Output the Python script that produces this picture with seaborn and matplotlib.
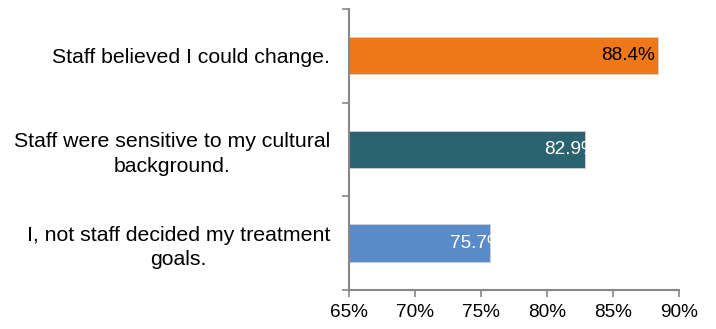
import matplotlib
matplotlib.use("Agg")
import matplotlib.pyplot as plt
import numpy as np
import pandas as pd
import seaborn as sns
from matplotlib.ticker import FuncFormatter, FixedLocator

# chart data
categories = [
    "Staff believed I could change.",
    "Staff were sensitive to my cultural\nbackground.",
    "I, not staff decided my treatment\ngoals.",
]
values = [0.884, 0.829, 0.757]
value_labels = ["88.4%", "82.9%", "75.7%"]
x_ticks = [0.65, 0.70, 0.75, 0.80, 0.85, 0.90]

bar_colors = ["#EE7718", "#2B6470", "#5A8BC8"]
label_colors = ["black", "white", "white"]
label_shift_px = [-3, 13, 13]

sns.set_style("white")
plt.rcParams["font.family"] = ["Liberation Sans", "DejaVu Sans"]
plt.rcParams["text.color"] = "black"
plt.rcParams["xtick.color"] = "black"
plt.rcParams["ytick.color"] = "black"

df = pd.DataFrame({"item": categories, "share": values})

fig = plt.figure(figsize=(7.16, 3.29), dpi=100)
ax = fig.add_axes([0.4875, 0.119, 0.4609, 0.854])

sns.barplot(
    data=df, x="share", y="item", hue="item", palette=bar_colors,
    orient="h", width=0.4, legend=False, ax=ax, saturation=1,
    edgecolor="#d0d0d0", linewidth=0.6,
)

ax.set_xlim(0.65, 0.90)
ax.set_ylim(2.5, -0.5)
ax.xaxis.set_major_locator(FixedLocator(x_ticks))
ax.xaxis.set_major_formatter(FuncFormatter(lambda v, p: f"{v * 100:.0f}%"))
ax.set_xlabel("")
ax.set_ylabel("")

# labels centred between boundary ticks
ax.set_yticks(range(len(categories)))
ax.set_yticklabels(categories, multialignment="center", linespacing=1.35)
ax.set_yticks(np.arange(-0.5, len(categories), 1.0), minor=True)
ax.tick_params(axis="y", which="major", left=False, length=0, pad=13.7,
               labelsize=15.3, labelcolor="black")
ax.tick_params(axis="y", which="minor", left=True, length=5, width=1.2,
               color="#888888")
ax.tick_params(axis="x", which="major", bottom=True, length=5, width=1.2,
               color="#888888", labelsize=13.7, labelcolor="black", pad=5,
               direction="out")

for side in ["top", "right"]:
    ax.spines[side].set_visible(False)
for side in ["left", "bottom"]:
    ax.spines[side].set_color("#888888")
    ax.spines[side].set_linewidth(1.5)

for i, (v, lab) in enumerate(zip(values, value_labels)):
    ax.annotate(lab, xy=(v, i), xytext=(label_shift_px[i] * 0.72, 0),
                textcoords="offset points", ha="right", va="center",
                color=label_colors[i], fontsize=13.7, clip_on=False)

fig.savefig("out.png", dpi=100)
